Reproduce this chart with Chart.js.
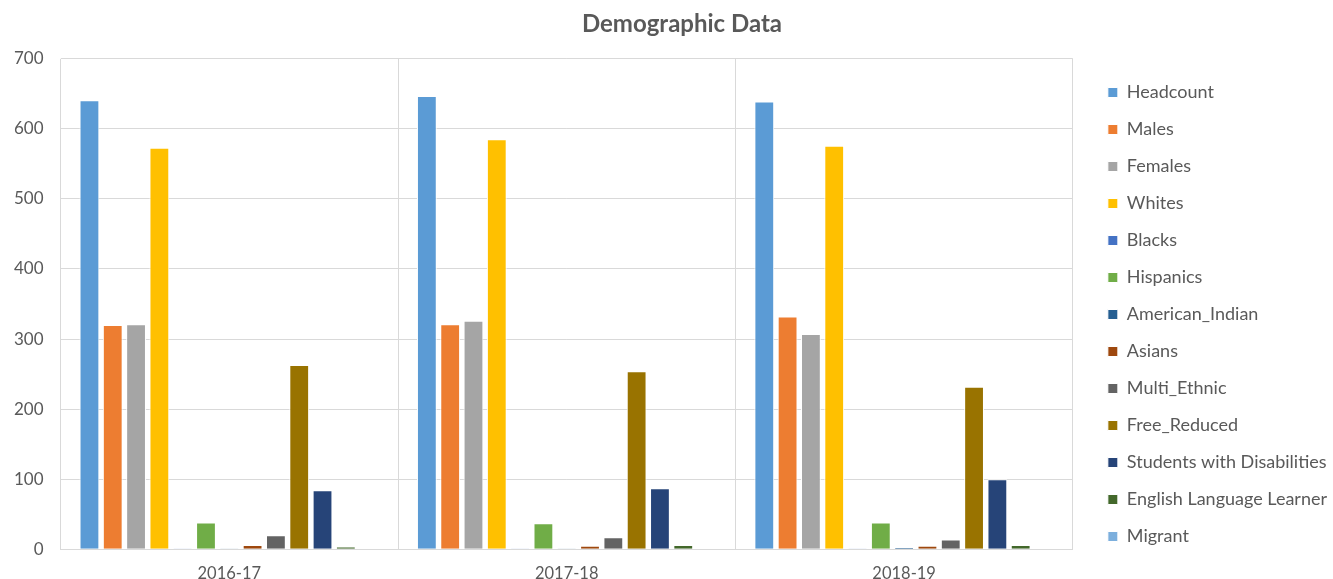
<!DOCTYPE html>
<html>
<head>
<meta charset="utf-8">
<script src="https://cdn.jsdelivr.net/npm/chart.js@4.4.1/dist/chart.umd.min.js"></script>
<style>
  html, body { margin: 0; padding: 0; background: #fff; }
  #wrap { width: 1333px; height: 579px; }
</style>
</head>
<body>
<div id="wrap"><canvas id="demoChart"></canvas></div>
<script>
// School years along the x axis
const years = ['2016-17', '2017-18', '2018-19'];

// One array per series
const headcount = [641, 647, 639];
const males = [320, 321, 332];
const females = [321, 326, 307];
const whites = [573, 585, 576];
const blacks = [1, 1, 1];
const hispanics = [38, 37, 38];
const americanIndian = [1, 1, 3];
const asians = [6, 5, 5];
const multiEthnic = [20, 17, 14];
const freeReduced = [263, 254, 232];
const disabilities = [84, 87, 100];
const ell = [4, 6, 6];
const migrant = [0, 0, 0];

const yTicks = [0, 100, 200, 300, 400, 500, 600, 700];

const seriesNames = ['Headcount', 'Males', 'Females', 'Whites', 'Blacks', 'Hispanics',
    'American_Indian', 'Asians', 'Multi_Ethnic', 'Free_Reduced',
    'Students with Disabilities', 'English Language Learner', 'Migrant'];
const seriesValues = [headcount, males, females, whites, blacks, hispanics,
    americanIndian, asians, multiEthnic, freeReduced, disabilities, ell, migrant];
const seriesColors = ['#5B9BD5', '#ED7D31', '#A5A5A5', '#FFC000', '#4472C4', '#70AD47',
    '#255E91', '#9E480E', '#636363', '#997300', '#264478', '#43682B', '#7CAFDD'];

const datasets = seriesNames.map(function(name, i) {
    return {
        label: name,
        data: seriesValues[i],
        backgroundColor: seriesColors[i],
        borderColor: '#ffffff',
        borderWidth: 1,
        barPercentage: 0.85,
        categoryPercentage: 0.898
    };
});

const textGrey = '#595959';
const gridGrey = '#d9d9d9';

// Excel leaves a wider gap between plot and legend, and the legend sits a bit lower
const legendWiden = 10;
const legendGapX = 16;
const legendShiftY = 11;
const titleShiftX = 18;

const legendNudge = {
    id: 'legendNudge',
    beforeUpdate(chart) {
        const legend = chart.legend;
        if (legend && !legend._nudged) {
            legend._nudged = true;
            const origFit = legend.fit;
            legend.fit = function() {
                origFit.call(this);
                this.width += legendWiden;
            };
        }
    },
    afterLayout(chart) {
        const legend = chart.legend;
        legend.left += legendGapX;
        legend.top += legendShiftY;
        legend.bottom += legendShiftY;
        if (chart.titleBlock) {
            chart.titleBlock.left += titleShiftX;
            chart.titleBlock.right += titleShiftX;
        }
    }
};

new Chart(document.getElementById('demoChart'), {
    type: 'bar',
    data: { labels: years, datasets: datasets },
    plugins: [legendNudge],
    options: {
        responsive: true,
        maintainAspectRatio: false,
        animation: false,
        layout: { padding: { left: -3, right: 2, top: 8, bottom: -20 } },
        plugins: {
            title: {
                display: true,
                text: 'Demographic Data',
                color: textGrey,
                font: { family: 'Lato', size: 24, weight: 'bold' },
                padding: { top: 2, bottom: 20 }
            },
            legend: {
                position: 'right',
                labels: {
                    color: textGrey,
                    font: { family: 'Lato', size: 18 },
                    boxWidth: 10,
                    boxHeight: 10,
                    padding: 19
                }
            },
            tooltip: { enabled: false }
        },
        scales: {
            x: {
                grid: { offset: true, color: gridGrey, drawTicks: false },
                border: { color: gridGrey },
                ticks: { color: textGrey, font: { family: 'Lato', size: 16.5 }, padding: 15 }
            },
            y: {
                min: 0,
                max: 700,
                grid: { color: gridGrey, drawTicks: false },
                border: { display: false },
                afterBuildTicks: function(axis) {
                    axis.ticks = yTicks.map(function(v) { return { value: v }; });
                },
                ticks: { color: textGrey, font: { family: 'Lato', size: 17 }, padding: 17 }
            }
        }
    }
});
</script>
</body>
</html>
